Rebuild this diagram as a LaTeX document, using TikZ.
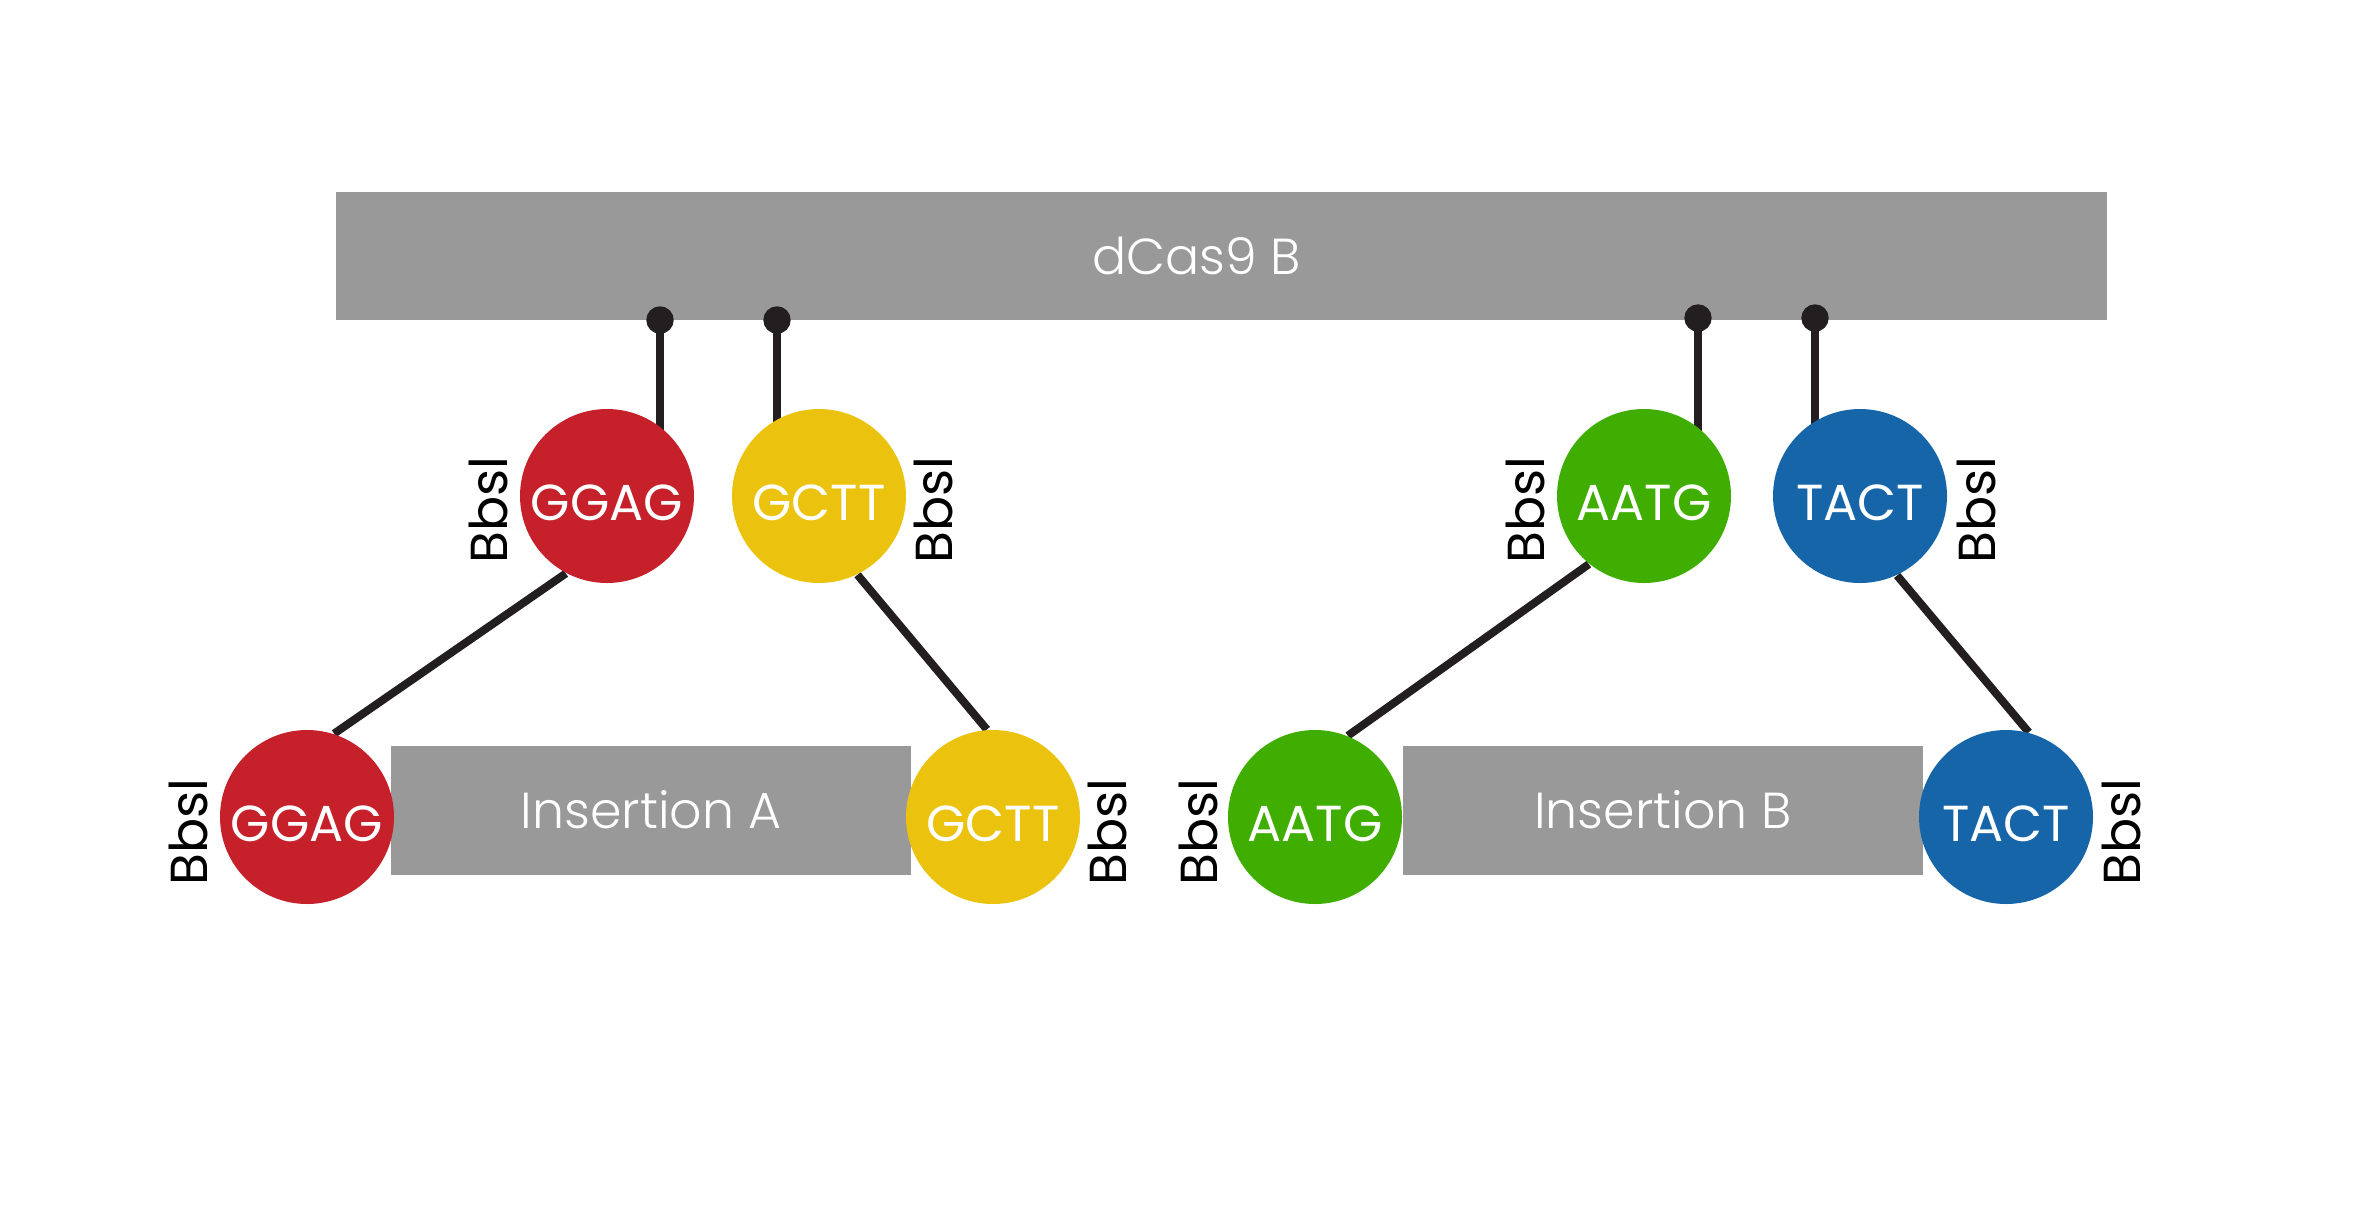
\documentclass[tikz,border=0pt]{standalone}
\usepackage{fontspec}
\setmainfont{Poppins}
\newfontfamily\poplight{Poppins Light}
\usepackage{xcolor}
\usepackage{pgf, tikz}
\usetikzlibrary{backgrounds}

\definecolor{barGray}{HTML}{999999}
\definecolor{ggagRed}{HTML}{C6202A}
\definecolor{gcttYellow}{HTML}{EBC30F}
\definecolor{aatgGreen}{HTML}{3FAE00}
\definecolor{tactBlue}{HTML}{1765A9}
\definecolor{linkBlack}{HTML}{231F20}

\tikzset{
    bar/.style={fill=barGray, inner sep=0pt, text=white, font=\poplight\fontsize{14.4}{17}\selectfont},
    site/.style={circle, minimum size=1.74cm, inner sep=0pt, text=white, text height=0.48cm, text depth=0pt,
        font=\fontsize{14.4}{17}\selectfont},
    enzyme/.style={rotate=90, inner sep=0pt, font=\fontsize{14.8}{17}\selectfont},
    link/.style={draw=linkBlack, line width=0.08cm},
}

\begin{document}
\begin{tikzpicture}
        \useasboundingbox (0, 0) rectangle (23.56, -12.18);

        % dCas9
        \node[bar, minimum width=17.71cm, minimum height=1.28cm,
            label={[bar, fill=none, xshift=-0.25cm]center:dCas9 B}] (cas) at (12.215, -2.56) {};
        \coordinate (p1) at (6.60, -3.20);
        \coordinate (p2) at (7.77, -3.20);
        \coordinate (p3) at (16.98, -3.18);
        \coordinate (p4) at (18.15, -3.18);

        % Insertions
        \node[bar, minimum width=5.20cm, minimum height=1.29cm] (insA) at (6.51, -8.10) {Insertion A};
        \node[bar, minimum width=5.20cm, minimum height=1.29cm] (insB) at (16.63, -8.10) {Insertion B};

        % Top sites
        \node[site, fill=ggagRed] (ggagT) at (6.07, -4.96) {GGAG};
        \node[site, fill=gcttYellow] (gcttT) at (8.19, -4.96) {GCTT};
        \node[site, fill=aatgGreen] (aatgT) at (16.44, -4.96) {AATG};
        \node[site, fill=tactBlue] (tactT) at (18.60, -4.96) {TACT};
        \node[enzyme] (bbslT1) at (4.88, -5.10) {Bbsl};
        \node[enzyme] (bbslT2) at (9.33, -5.10) {Bbsl};
        \node[enzyme] (bbslT3) at (15.25, -5.10) {Bbsl};
        \node[enzyme] (bbslT4) at (19.76, -5.10) {Bbsl};

        % Bottom sites
        \node[site, fill=ggagRed] (ggagB) at (3.07, -8.17) {GGAG};
        \node[site, fill=gcttYellow] (gcttB) at (9.93, -8.17) {GCTT};
        \node[site, fill=aatgGreen] (aatgB) at (13.15, -8.17) {AATG};
        \node[site, fill=tactBlue] (tactB) at (20.06, -8.17) {TACT};
        \node[enzyme] (bbslB1) at (1.88, -8.32) {Bbsl};
        \node[enzyme] (bbslB2) at (11.07, -8.32) {Bbsl};
        \node[enzyme] (bbslB3) at (11.98, -8.32) {Bbsl};
        \node[enzyme] (bbslB4) at (21.21, -8.32) {Bbsl};

        % Links
        \begin{scope}[on background layer]
            \draw[link] (p1) -- (p1 |- ggagT.center);
            \draw[link] (p2) -- (p2 |- gcttT.center);
            \draw[link] (p3) -- (p3 |- aatgT.center);
            \draw[link] (p4) -- (p4 |- tactT.center);
            \draw[link] (ggagT.242) -- (ggagB.72);
            \draw[link] (gcttT.296) -- (gcttB.94);
            \draw[link] (aatgT.231) -- (aatgB.68);
            \draw[link] (tactT.295) -- (tactB.75);
        \end{scope}
        \filldraw[linkBlack] (p1) circle (0.13);
        \filldraw[linkBlack] (p2) circle (0.13);
        \filldraw[linkBlack] (p3) circle (0.13);
        \filldraw[linkBlack] (p4) circle (0.13);
    \end{tikzpicture}
\end{document}
